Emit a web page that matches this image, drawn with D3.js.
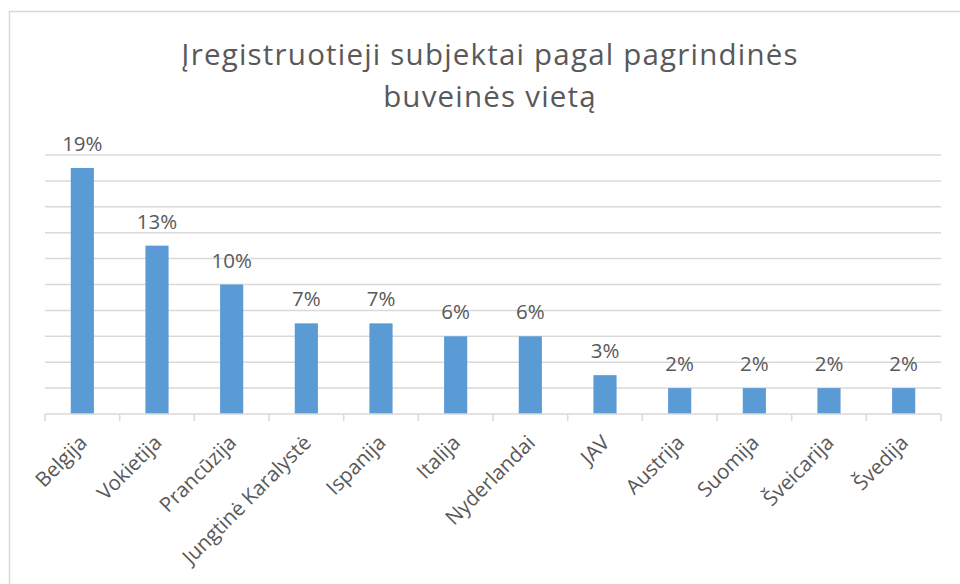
<!DOCTYPE html>
<html>
<head>
<meta charset="utf-8">
<script src="https://cdn.jsdelivr.net/npm/d3@7"></script>
<style>
  body { margin: 0; background: #fff; }
  text { font-family: "Open Sans", Lato, sans-serif; fill: #595959; }
</style>
</head>
<body>
<div id="chart"></div>
<script>
"use strict"

// data
let titleLines = ["Įregistruotieji subjektai pagal pagrindinės", "buveinės vietą"];
let countries = ["Belgija", "Vokietija", "Prancūzija", "Jungtinė Karalystė", "Ispanija", "Italija",
                 "Nyderlandai", "JAV", "Austrija", "Suomija", "Šveicarija", "Švedija"];
let shares = [19, 13, 10, 7, 7, 6, 6, 3, 2, 2, 2, 2];
let gridTicks = [0, 2, 4, 6, 8, 10, 12, 14, 16, 18, 20];

let width = 960, height = 584;

let svg = d3.select("#chart").append("svg")
    .attr("width", width)
    .attr("height", height);

// chart area border (only top and left visible in the picture)
svg.append("rect")
    .attr("x", 9.5)
    .attr("y", 11.5)
    .attr("width", 1000)
    .attr("height", 700)
    .style("fill", "none")
    .style("stroke", "#d9d9d9")
    .style("stroke-width", "1.5px");

let x = d3.scaleBand()
    .domain(countries)
    .range([45, 941])
    .paddingInner(0.69)
    .paddingOuter(0.345);

let y = d3.scaleLinear()
    .domain([0, 20])
    .range([414, 155]);

// title
svg.append("text")
    .attr("x", 490)
    .attr("y", 65)
    .style("text-anchor", "middle")
    .style("font-size", "29.5px")
    .style("letter-spacing", "1.2px")
    .selectAll("tspan")
    .data(titleLines)
    .join("tspan")
    .attr("x", 490)
    .attr("dy", (d, i) => i === 0 ? 0 : 42)
    .text(d => d);

// gridlines
svg.append("g")
    .selectAll("line")
    .data(gridTicks.slice(1))
    .join("line")
    .attr("x1", 45)
    .attr("x2", 941)
    .attr("y1", d => y(d))
    .attr("y2", d => y(d))
    .style("stroke", "#d9d9d9")
    .style("stroke-width", "1.5px");

// bars
svg.append("g")
    .selectAll("rect")
    .data(shares)
    .join("rect")
    .attr("x", (d, i) => x(countries[i]))
    .attr("y", d => y(d))
    .attr("width", x.bandwidth())
    .attr("height", d => y(0) - y(d))
    .style("fill", "#5b9bd5");

// value labels
svg.append("g")
    .selectAll("text")
    .data(shares)
    .join("text")
    .attr("x", (d, i) => x(countries[i]) + x.bandwidth() / 2)
    .attr("y", d => y(d) - 17)
    .style("text-anchor", "middle")
    .style("font-size", "20.5px")
    .text(d => d + "%");

// x axis with category boundary ticks
let band = x.step();
let axis = svg.append("g");
axis.append("line")
    .attr("x1", 45)
    .attr("x2", 941)
    .attr("y1", y(0))
    .attr("y2", y(0))
    .style("stroke", "#d9d9d9")
    .style("stroke-width", "1.5px");

axis.selectAll(".tick")
    .data(d3.range(countries.length + 1))
    .join("line")
    .attr("class", "tick")
    .attr("x1", i => 45 + i * band)
    .attr("x2", i => 45 + i * band)
    .attr("y1", y(0))
    .attr("y2", y(0) + 7)
    .style("stroke", "#d9d9d9")
    .style("stroke-width", "1.5px");

axis.selectAll("text")
    .data(countries)
    .join("text")
    .attr("transform", d => "translate(" + (x(d) + x.bandwidth() / 2 + 6) + "," + 444 + ") rotate(-45)")
    .style("text-anchor", "end")
    .style("font-size", "20.5px")
    .text(d => d);
</script>
</body>
</html>
